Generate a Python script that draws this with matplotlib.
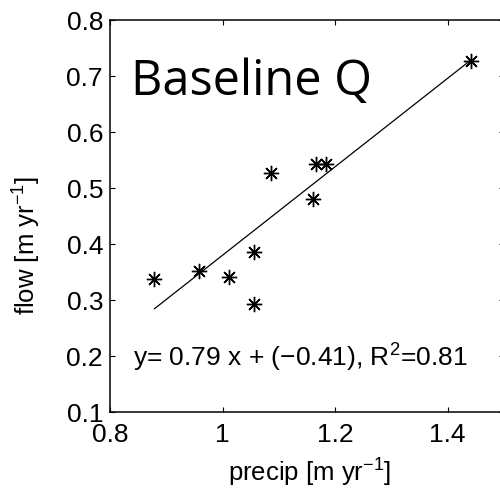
import numpy as np
import matplotlib
matplotlib.use('Agg')
import matplotlib.pyplot as plt

plt.rcParams['font.family'] = ['Liberation Sans', 'DejaVu Sans']
plt.rcParams['mathtext.fontset'] = 'custom'
plt.rcParams['mathtext.rm'] = 'Liberation Sans'
plt.rcParams['mathtext.it'] = 'Liberation Sans'
plt.rcParams['mathtext.default'] = 'regular'

precip = [0.879, 0.959, 1.012, 1.056, 1.056, 1.086, 1.160, 1.166, 1.184, 1.441]
flow = [0.337, 0.352, 0.341, 0.386, 0.293, 0.526, 0.480, 0.543, 0.543, 0.727]
slope = 0.79
intercept = -0.41
title = 'Baseline Q'
eq_text = 'y= 0.79 x + (\u22120.41), R$^2$=0.81'

fig = plt.figure(figsize=(5.0, 4.91), dpi=100)
ax = fig.add_axes([110 / 500, 79 / 491, 394 / 500, 392 / 491])

xfit = np.array([min(precip), max(precip)])
ax.plot(xfit, slope * xfit + intercept, color='k', lw=0.9)
ax.plot(precip, flow, linestyle='none', marker=(8, 2, 0), markersize=11,
        markeredgewidth=1.0, color='k')

ax.set_xlim(0.8, 1.5)
ax.set_ylim(0.1, 0.8)
ax.set_xticks([0.8, 1.0, 1.2, 1.4])
ax.set_xticklabels(['0.8', '1', '1.2', '1.4'])
ax.set_yticks([0.1, 0.2, 0.3, 0.4, 0.5, 0.6, 0.7, 0.8])
ax.tick_params(direction='in', top=True, right=True, length=3.5, width=0.8,
               labelsize=19)
ax.tick_params(axis='x', pad=8)
ax.tick_params(axis='y', pad=5)
for s in ax.spines.values():
    s.set_linewidth(1.1)

ax.set_xlabel('precip [m yr$^{\u22121}$]', fontsize=18.5)
ax.set_ylabel('flow [m yr$^{\u22121}$]', fontsize=18.5)
ax.xaxis.set_label_coords(0.508, -0.115)
ax.yaxis.set_label_coords(-0.17, 0.425)

ax.text(0.837, 0.666, title, fontsize=35, family=['Open Sans', 'DejaVu Sans'],
        va='baseline', ha='left')
ax.text(0.841, 0.181, eq_text, fontsize=19, va='baseline', ha='left')

fig.savefig('out.png', dpi=100)
